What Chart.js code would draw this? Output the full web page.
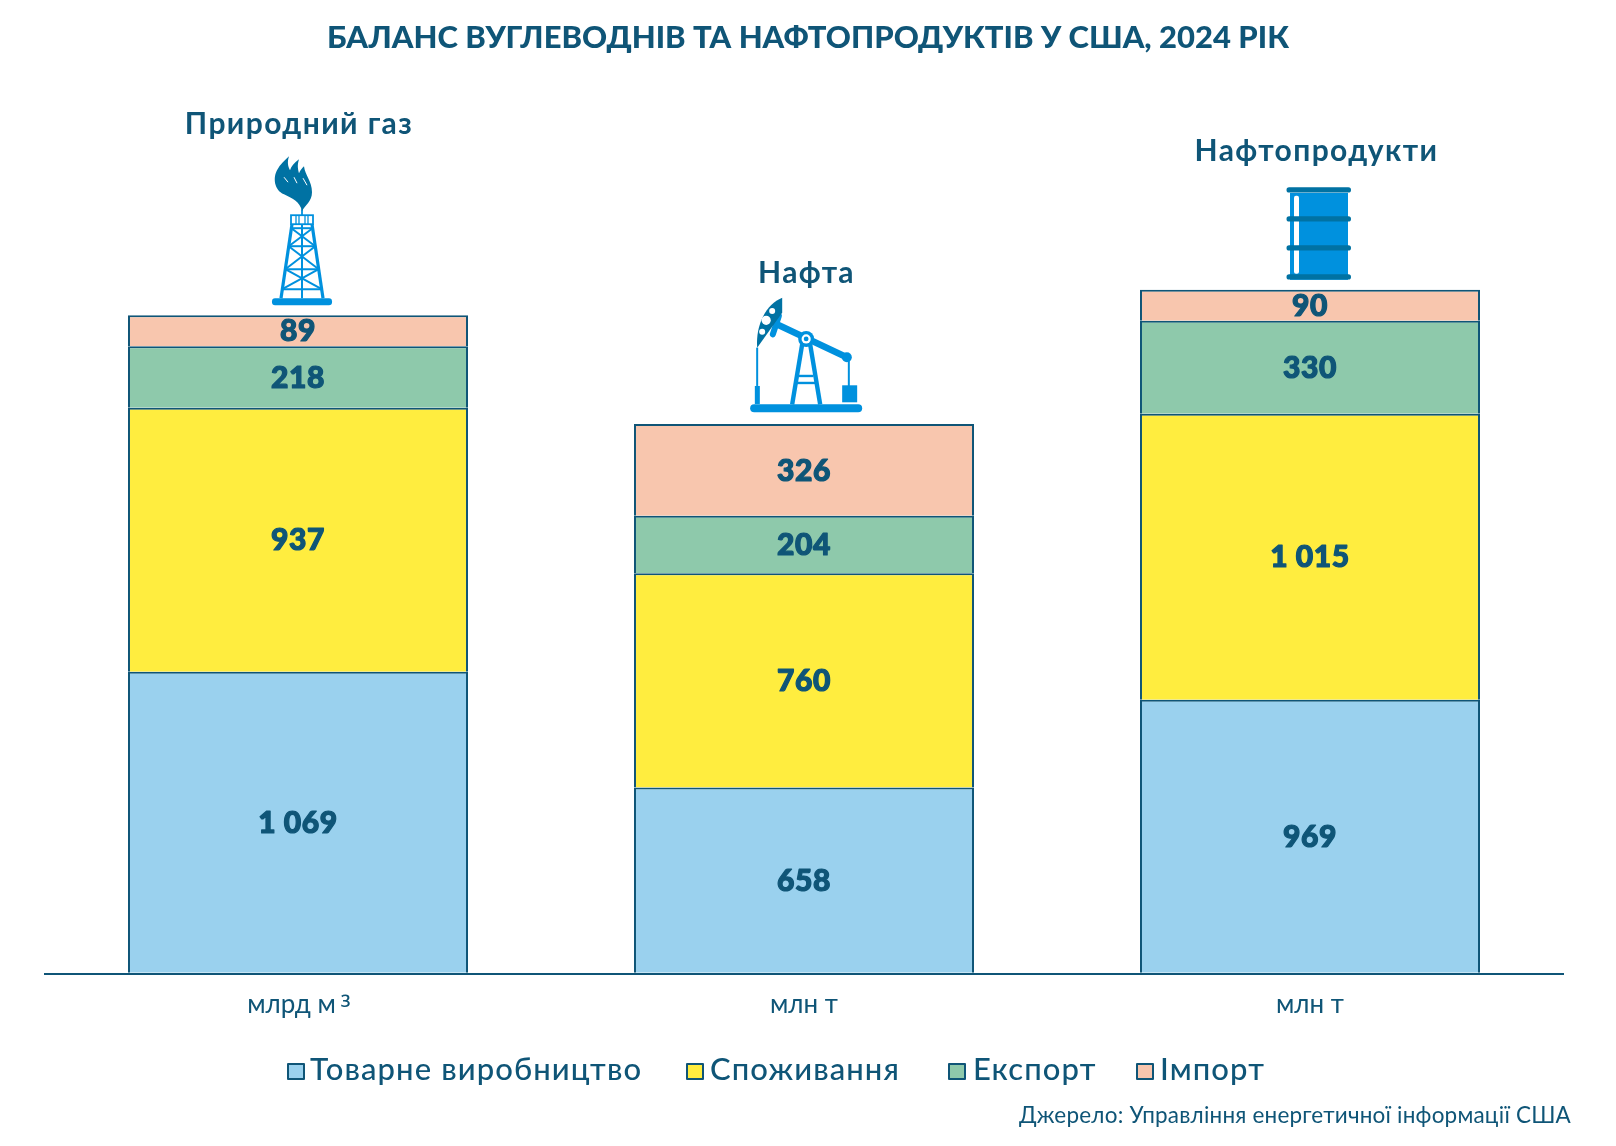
<!DOCTYPE html>
<html lang="uk">
<head>
<meta charset="utf-8">
<title>Баланс вуглеводнів</title>
<script src="https://cdn.jsdelivr.net/npm/chart.js@4/dist/chart.umd.min.js"></script>
<style>
    body { margin: 0; background: #fff; }
    #wrap { position: relative; width: 1616px; height: 1146px; font-family: Lato, "Noto Sans", sans-serif; color: #0f5577; }
    #legend span { position: absolute; white-space: nowrap; }
    #legend .box { width: 14px; height: 13px; border: 2px solid #0f5577; border-radius: 1px; top: 1063px; }
    #legend .txt { font-size: 31px; line-height: 36px; top: 1050px; font-weight: 500; letter-spacing: 1.1px; }
    #source { position: absolute; right: 45px; top: 1101px; font-size: 22.5px; line-height: 28px; white-space: nowrap; letter-spacing: 0.2px; }
</style>
</head>
<body>
<div id="wrap">
    <canvas id="chart" width="1616" height="1146"></canvas>
    <div id="legend"></div>
    <div id="source">Джерело: Управління енергетичної інформації США</div>
</div>
<script>
const chartTitle = 'БАЛАНС ВУГЛЕВОДНІВ ТА НАФТОПРОДУКТІВ У США, 2024 РІК';
const units = ['млрд м³', 'млн т', 'млн т'];
const groups = ['Природний газ', 'Нафта', 'Нафтопродукти'];
const seriesNames = ['Товарне виробництво', 'Споживання', 'Експорт', 'Імпорт'];

const production = [1069, 658, 969];
const consumption = [937, 760, 1015];
const exports_ = [218, 204, 330];
const imports = [89, 326, 90];
// in the source the 89 and 90 segments are drawn taller than their labels, about 110 on the scale
const importsDrawn = [110, 326, 110];

const fills = ['#9ad1ee', '#ffed3f', '#8ec9ab', '#f8c6ae'];
const ink = '#0f5577';
const iconBlue = '#0091de';
const iconDark = '#0072a3';
const font = 'Lato, "Noto Sans", sans-serif';

function line(ctx, x1, y1, x2, y2, w) {
    ctx.lineWidth = w;
    ctx.beginPath();
    ctx.moveTo(x1, y1);
    ctx.lineTo(x2, y2);
    ctx.stroke();
}

function pill(ctx, x, y, w, h, r) {
    ctx.beginPath();
    ctx.roundRect(x, y, w, h, r);
    ctx.fill();
}

// icons are drawn around the middle of their foot
function drawGasIcon(ctx) {
    ctx.fillStyle = iconBlue;
    ctx.strokeStyle = iconBlue;
    pill(ctx, -30, -7, 60, 7, 3);
    line(ctx, -10, -81, -21, -7, 3.2);
    line(ctx, 10, -81, 21, -7, 3.2);
    line(ctx, 0, -81, 0, -7, 2);
    const halfAt = y => 10 + (y + 81) / 74 * 11;
    const levels = [-77, -59, -36, -16];
    levels.forEach(y => line(ctx, -halfAt(y), y, halfAt(y), y, 2));
    for (let i = 0; i < levels.length - 1; i++) {
        const a = levels[i], b = levels[i + 1];
        line(ctx, -halfAt(a), a, halfAt(b), b, 2);
        line(ctx, halfAt(a), a, -halfAt(b), b, 2);
    }
    ctx.lineWidth = 1.8;
    ctx.strokeRect(-11, -90, 22, 9);
    line(ctx, -6, -90, -6, -81, 1.3);
    line(ctx, -3, -90, -3, -81, 1.3);
    line(ctx, 3, -90, 3, -81, 1.3);
    line(ctx, 6, -90, 6, -81, 1.3);
    line(ctx, 0, -96, 0, -90, 1.8);

    ctx.fillStyle = iconDark;
    ctx.beginPath();
    ctx.moveTo(0, -94);
    ctx.bezierCurveTo(-2, -104, -10, -107, -18, -111);
    ctx.bezierCurveTo(-28, -115, -29, -128, -25, -135);
    ctx.bezierCurveTo(-22, -141, -17, -145, -13, -149);
    ctx.bezierCurveTo(-15, -143, -14, -139, -12, -135);
    ctx.bezierCurveTo(-11, -139, -8, -142, -3, -146);
    ctx.bezierCurveTo(-5, -140, -4, -136, -3, -132);
    ctx.bezierCurveTo(-2, -135, 0, -137, 2, -139);
    ctx.bezierCurveTo(3, -130, 10, -124, 10, -113);
    ctx.bezierCurveTo(10, -104, 3, -100, 0, -94);
    ctx.closePath();
    ctx.fill();
    ctx.strokeStyle = '#fff';
    line(ctx, -18, -128, -14, -123, 1);
    line(ctx, -8, -128, -5, -122, 1);
    line(ctx, 1, -127, 5, -120, 1);
}

function drawPumpIcon(ctx) {
    // sizes below were read in 3x pixels off the crop
    const px = x => x / 3 - 87;
    const py = y => y / 3 - 171;
    ctx.fillStyle = iconBlue;
    ctx.strokeStyle = iconBlue;
    pill(ctx, px(92), py(490), 112, 8, 4);
    line(ctx, px(113), py(320), px(113), py(435), 2);
    line(ctx, px(388), py(350), px(388), py(435), 2);
    ctx.fillRect(px(106), py(435), 5, 18);
    ctx.fillRect(px(368), py(433), 15, 17);
    line(ctx, px(248), py(310), px(218), py(490), 4.4);
    line(ctx, px(272), py(310), px(302), py(490), 4.4);
    line(ctx, px(238), py(405), px(282), py(405), 2.4);
    line(ctx, px(232), py(426), px(288), py(426), 2.4);
    ctx.lineCap = 'round';
    line(ctx, px(172), py(250), px(380), py(348), 6.5);
    line(ctx, px(178), py(225), px(160), py(280), 6);
    ctx.lineCap = 'butt';
    ctx.beginPath();
    ctx.arc(px(382), py(349), 5, 0, Math.PI * 2);
    ctx.fill();

    ctx.fillStyle = iconDark;
    ctx.beginPath();
    ctx.moveTo(px(113), py(320));
    ctx.bezierCurveTo(px(108), py(250), px(140), py(190), px(188), py(170));
    ctx.lineTo(px(188), py(215));
    ctx.closePath();
    ctx.fill();
    ctx.fillStyle = '#fff';
    [[158, 210, 3], [140, 238, 4.6], [128, 272, 3]].forEach(h => {
        ctx.beginPath();
        ctx.arc(px(h[0]), py(h[1]), h[2], 0, Math.PI * 2);
        ctx.fill();
    });

    [[8, iconBlue], [4.6, '#fff'], [2.4, iconBlue]].forEach(c => {
        ctx.fillStyle = c[1];
        ctx.beginPath();
        ctx.arc(px(260), py(294), c[0], 0, Math.PI * 2);
        ctx.fill();
    });
}

function drawBarrelIcon(ctx) {
    ctx.fillStyle = iconBlue;
    ctx.fillRect(-28.5, -87, 58, 87);
    ctx.fillStyle = '#fff';
    pill(ctx, -24.5, -84, 5, 78, 2);
    ctx.fillStyle = iconDark;
    [-90, -61, -32, -3].forEach(y => pill(ctx, -32, y - 2.5, 64.5, 5.2, 2.6));
}

// one entry per bar, offsets from the top middle of the bar
const decorations = [
    { draw: drawGasIcon, iconDx: 4, iconDy: -10, headDx: 1, headDy: -191 },
    { draw: drawPumpIcon, iconDx: 2.5, iconDy: -12, headDx: 2.5, headDy: -151 },
    { draw: drawBarrelIcon, iconDx: 8.5, iconDy: -10, headDx: 6.5, headDy: -139 }
];

const labelValues = [production, consumption, exports_, imports];

const segmentLabels = {
    id: 'segmentLabels',
    afterDatasetsDraw(chart) {
        const ctx = chart.ctx;
        ctx.save();
        ctx.textAlign = 'center';
        ctx.textBaseline = 'middle';
        ctx.fillStyle = ink;
        ctx.strokeStyle = ink;
        ctx.lineWidth = 1.2;
        ctx.lineJoin = 'round';
        ctx.font = '900 30px ' + font;
        ctx.letterSpacing = '0.6px';
        chart.data.datasets.forEach((ds, d) => {
            chart.getDatasetMeta(d).data.forEach((bar, i) => {
                const text = String(labelValues[d][i]).replace(/\B(?=(\d{3})+$)/g, ' ');
                const y = (bar.y + bar.base) / 2 + 1;
                ctx.strokeText(text, bar.x, y);
                ctx.fillText(text, bar.x, y);
            });
        });
        ctx.restore();
    }
};

const barDecorations = {
    id: 'barDecorations',
    afterDatasetsDraw(chart) {
        const ctx = chart.ctx;
        const topBars = chart.getDatasetMeta(chart.data.datasets.length - 1).data;
        topBars.forEach((bar, i) => {
            const deco = decorations[i];
            ctx.save();
            ctx.fillStyle = ink;
            ctx.textAlign = 'center';
            ctx.textBaseline = 'middle';
            ctx.font = '700 30px ' + font;
            ctx.letterSpacing = '1.4px';
            ctx.fillText(groups[i], bar.x + deco.headDx, bar.y + deco.headDy);
            ctx.letterSpacing = '0px';
            ctx.translate(bar.x + deco.iconDx, bar.y + deco.iconDy);
            deco.draw(ctx);
            ctx.restore();
        });
    }
};

// the plot is not symmetric on the page but the title is centred on the page
const centreTitle = {
    id: 'centreTitle',
    afterLayout(chart) {
        chart.titleBlock.left += 4;
        chart.titleBlock.right += 4;
    }
};

// Lato's ³ is very small, so the superscript is drawn separately in Noto Sans
const unitSuperscript = {
    id: 'unitSuperscript',
    afterDraw(chart) {
        const ctx = chart.ctx;
        const x = chart.scales.x;
        units.forEach((unit, i) => {
            if (!unit.includes('³')) return;
            ctx.save();
            ctx.font = '26px ' + font;
            const base = unit.replace('³', '');
            const end = x.getPixelForTick(i) + ctx.measureText(base + '\u2002').width / 2 - ctx.measureText('\u2002').width;
            ctx.font = '28px "Noto Sans"';
            ctx.fillStyle = ink;
            ctx.textAlign = 'left';
            ctx.textBaseline = 'middle';
            ctx.fillText('³', end + 5, x.top + 36);
            ctx.restore();
        });
    }
};

const seriesData = [production, consumption, exports_, importsDrawn];

new Chart(document.getElementById('chart').getContext('2d'), {
    type: 'bar',
    data: {
        labels: units,
        datasets: seriesNames.map((name, i) => ({
            label: name,
            data: seriesData[i],
            backgroundColor: fills[i],
            borderColor: ink,
            borderWidth: 2,
            borderSkipped: 'bottom',
            barPercentage: 0.672,
            categoryPercentage: 1
        }))
    },
    options: {
        responsive: false,
        animation: false,
        layout: { padding: { left: 45, right: 53, top: 0, bottom: 0 } },
        plugins: {
            legend: { display: false },
            tooltip: { enabled: false },
            title: {
                display: true,
                text: chartTitle,
                color: ink,
                font: { family: font, size: 31, weight: '900', lineHeight: 1.2 },
                padding: { top: 19, bottom: 24 }
            }
        },
        scales: {
            x: {
                stacked: true,
                grid: { display: false },
                border: { display: true, color: ink, width: 2 },
                ticks: {
                    color: ink,
                    font: { family: font, size: 26 },
                    padding: 7,
                    maxRotation: 0,
                    callback: (value, i) => units[i].replace('³', '\u2002')
                },
                afterFit(scale) { scale.height = 172; }
            },
            y: {
                stacked: true,
                display: false,
                min: -4,
                max: 3168
            }
        }
    },
    plugins: [centreTitle, segmentLabels, barDecorations, unitSuperscript]
});

// legend boxes sit closer to their text than the built-in legend allows
const legendPositions = [
    { box: 287, text: 310 },
    { box: 686, text: 710 },
    { box: 948, text: 973 },
    { box: 1136, text: 1160 }
];
const legendDiv = document.getElementById('legend');
seriesNames.forEach((name, i) => {
    const box = document.createElement('span');
    box.className = 'box';
    box.style.left = legendPositions[i].box + 'px';
    box.style.background = fills[i];
    legendDiv.appendChild(box);
    const txt = document.createElement('span');
    txt.className = 'txt';
    txt.style.left = legendPositions[i].text + 'px';
    txt.textContent = name;
    legendDiv.appendChild(txt);
});
</script>
</body>
</html>
